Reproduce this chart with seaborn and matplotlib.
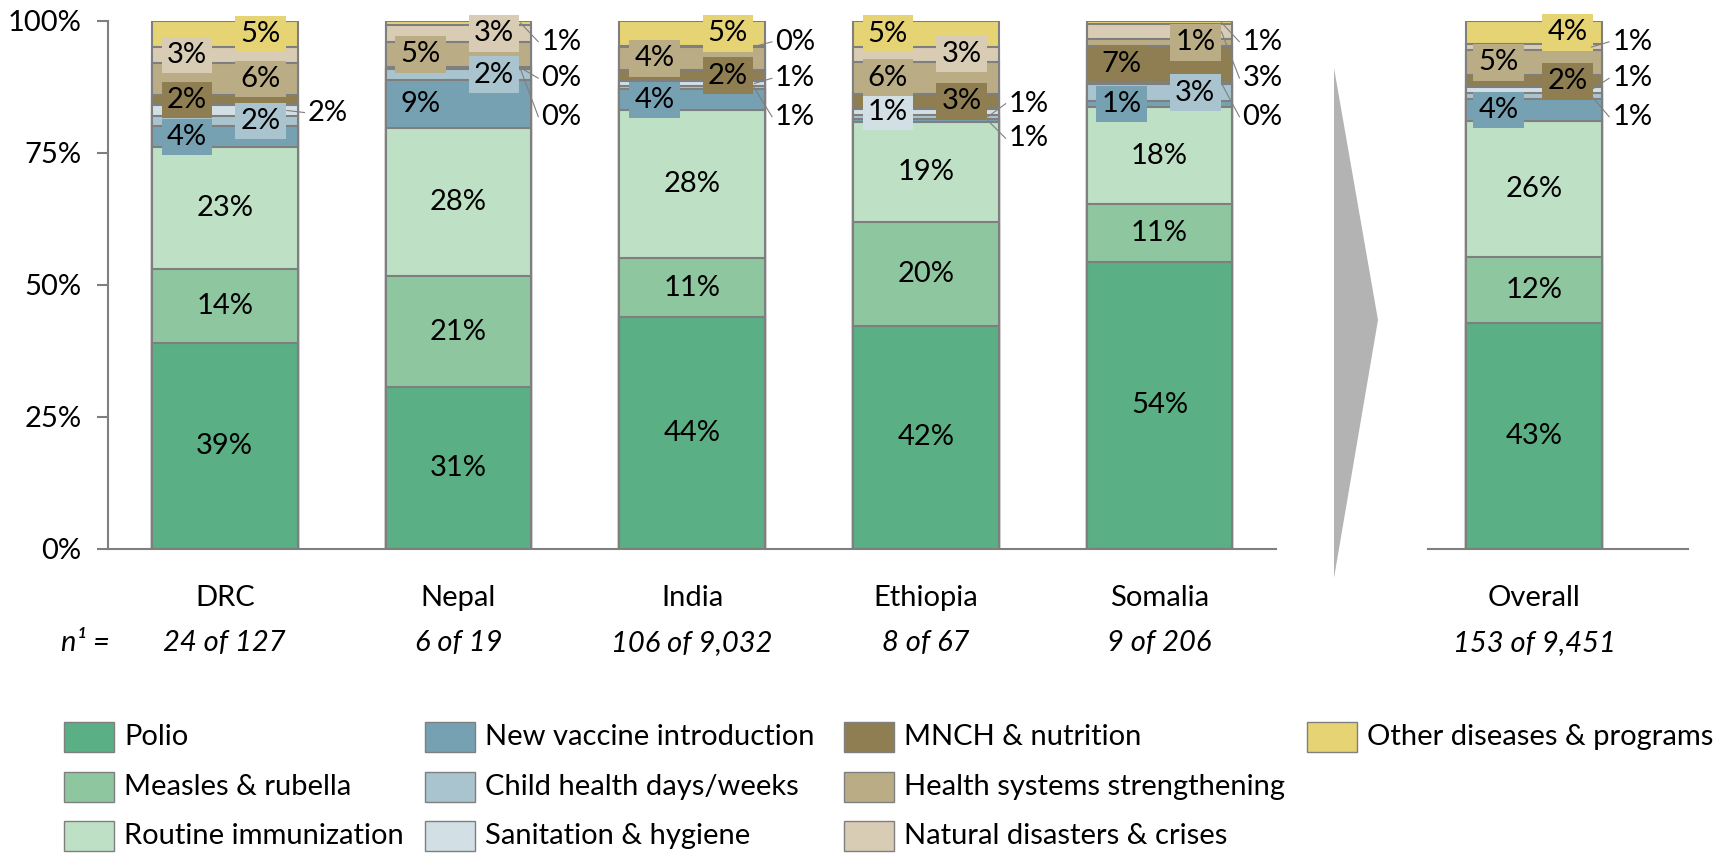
import matplotlib
matplotlib.use("Agg")
import matplotlib.pyplot as plt
import seaborn as sns
import numpy as np
from matplotlib.patches import Polygon, Rectangle

# ---------------- data ----------------
countries = ["DRC", "Nepal", "India", "Ethiopia", "Somalia"]
n_labels = ["24 of 127", "6 of 19", "106 of 9,032", "8 of 67", "9 of 206"]
overall_name = ["Overall"]
overall_n = "153 of 9,451"
categories = ["Polio", "Measles & rubella", "Routine immunization",
              "New vaccine introduction", "Child health days/weeks",
              "Sanitation & hygiene", "MNCH & nutrition",
              "Health systems strengthening", "Natural disasters & crises",
              "Other diseases & programs"]

# columns: DRC, Nepal, India, Ethiopia, Somalia, Overall  (percent)
polio        = [39.0, 30.6, 43.8, 42.2, 54.3, 42.8]
measles      = [14.0, 21.0, 11.2, 19.6, 11.0, 12.4]
routine      = [23.0, 28.1, 28.0, 19.0, 18.3, 25.8]
new_vaccine  = [4.0, 9.1, 4.0, 0.6, 1.2, 4.2]
child_health = [2.0, 2.0, 0.7, 0.8, 3.2, 1.2]
sanitation   = [2.0, 0.2, 0.8, 1.0, 0.3, 1.0]
mnch         = [2.0, 0.2, 2.2, 3.0, 7.0, 2.4]
hss          = [6.0, 4.8, 4.3, 6.0, 1.2, 4.6]
disasters    = [3.0, 3.2, 0.2, 2.9, 2.8, 1.2]
other        = [5.0, 0.8, 4.8, 4.9, 0.7, 4.4]

y_ticks = [0, 25, 50, 75, 100]
y_ticklabels = ["0%", "25%", "50%", "75%", "100%"]

# ---------------- style ----------------
colors = ["#5BAF84", "#8EC69F", "#BEE0C5", "#76A1B2", "#A9C4CE",
          "#D2E0E6", "#8E7E51", "#BAAC85", "#D8CCB4", "#E6D374"]
EDGE = "#7F7F7F"

# label placement per bar: c=centre, l=left box, r=right box, number = outside label at that y
placement = [
    ["c", "c", "c", "l", "r", 82.6, "l", "r", "l", "r"],        # DRC
    ["c", "c", "c", "l", "r", 81.8, 89.1, "l", "r", 96.0],       # Nepal
    ["c", "c", "c", "l", 81.8, 89.1, "r", "l", 96.0, "r"],       # India
    ["c", "c", "c", 77.7, 84.3, "l", "r", "l", "r", "l"],        # Ethiopia
    ["c", "c", "c", "l", "r", 81.8, "l", "r", 89.1, 96.0],       # Somalia
    ["c", "c", "c", "l", 81.8, 89.1, "r", "l", 96.0, "r"],       # Overall
]

sns.set_theme(style="white")
plt.rcParams["font.family"] = ["Lato", "DejaVu Sans"]
FS = 21

W, H = 1729, 855
fig = plt.figure(figsize=(W / 100, H / 100), dpi=100)


def fx(px):
    return px / W


def fy(py):
    return 1 - py / H


Y0, Y100 = 548.7, 20.7
CAT = 233.7
ax = fig.add_axes([fx(107.9), fy(Y0), fx(5 * CAT), (Y0 - Y100) / H])
OV_L, OV_R, OV_C, OV_BAR = 1428, 1688, 1534, 136.4
ax2 = fig.add_axes([fx(OV_L), fy(Y0), fx(OV_R - OV_L), (Y0 - Y100) / H])

series = [polio, measles, routine, new_vaccine, child_health, sanitation,
          mnch, hss, disasters, other]
vals = np.array(series)
tops = np.cumsum(vals, axis=0)

BW = 0.624
BW2 = 0.624
px_unit2 = OV_BAR / BW2

for j in reversed(range(len(categories))):
    sns.barplot(x=countries, y=tops[j, :5], order=countries, color=colors[j],
                saturation=1, width=BW, edgecolor=EDGE, linewidth=1.5,
                errorbar=None, ax=ax)
    sns.barplot(x=overall_name, y=tops[j, 5:6], color=colors[j],
                saturation=1, width=BW2, edgecolor=EDGE, linewidth=1.5,
                errorbar=None, ax=ax2)


def draw_labels(axis, xpos, k, barw, px_unit):
    for j in range(len(categories)):
        v = vals[j, k]
        mid = tops[j, k] - v / 2
        txt = f"{v:.0f}%"
        p = placement[k][j]
        if isinstance(p, str):
            dx = {"c": 0.0, "l": -0.26 * barw, "r": 0.245 * barw}[p]
            axis.text(xpos + dx, mid, txt, ha="center", va="center",
                      fontsize=FS, color="black", zorder=6,
                      bbox=dict(boxstyle="square,pad=0.18", fc=colors[j],
                                ec="none"))
        else:
            xr = xpos + barw / 2
            axis.text(xr + 10 / px_unit, p, txt, ha="left", va="center",
                      fontsize=FS, color="black", zorder=6, clip_on=False)
            axis.plot([xr - 11 / px_unit, xr + 7 / px_unit], [mid, p],
                      color=EDGE, lw=0.8, zorder=7, clip_on=False)


for i in range(5):
    draw_labels(ax, i, i, BW, CAT)
draw_labels(ax2, 0, 5, BW2, px_unit2)

# ---------------- axes ----------------
for a in (ax, ax2):
    a.set_ylim(0, 100)
    for s in ("top", "right"):
        a.spines[s].set_visible(False)
    a.spines["bottom"].set_color(EDGE)
    a.spines["bottom"].set_linewidth(1.5)
    a.set_xlabel("")
    a.set_ylabel("")
    a.tick_params(axis="x", which="major", length=0, pad=26, labelsize=FS,
                  labelcolor="black")
    a.tick_params(axis="x", which="minor", length=8.5, width=1.5, color=EDGE,
                  direction="out")

ax.set_xlim(-0.5, 4.5)
ax.set_xticks(np.arange(-0.5, 5.0, 1.0), minor=True)
ax.spines["left"].set_color(EDGE)
ax.spines["left"].set_linewidth(1.5)
ax.set_yticks(y_ticks)
ax.set_yticklabels(y_ticklabels)
ax.tick_params(axis="y", length=8, width=1.5, color=EDGE, pad=11,
               labelsize=FS, labelcolor="black", left=True)

x2l = -(OV_C - OV_L) / px_unit2
x2r = (OV_R - OV_C) / px_unit2
ax2.set_xlim(x2l, x2r)
ax2.set_xticks([x2l, x2r], minor=True)
ax2.spines["left"].set_visible(False)
ax2.set_yticks([])

# n labels
ny = -(643 - Y0) / (Y0 - Y100)
for i, t in enumerate(n_labels):
    ax.text(i, ny, t, transform=ax.get_xaxis_transform(), ha="center",
            va="center", fontsize=FS, style="italic", color="black")
ax2.text(0, ny, overall_n, transform=ax2.get_xaxis_transform(), ha="center",
         va="center", fontsize=FS, style="italic", color="black")
fig.text(fx(61), fy(643), "n¹ =", ha="left", va="center", fontsize=FS,
         style="italic", color="black")

# arrow
fig.patches.append(Polygon([(fx(1334), fy(68)), (fx(1378), fy(320)),
                            (fx(1334), fy(578))], closed=True,
                           transform=fig.transFigure, fc="#B3B3B3",
                           ec="none"))

# legend (manual, column-major layout)
col_patch_x = [64, 425, 844, 1307]
row_y = [737, 787, 836]
PW, PH = 50, 30
for j, name in enumerate(categories):
    c, r = j // 3, j % 3
    px, py = col_patch_x[c], row_y[r]
    fig.patches.append(Rectangle((fx(px), fy(py + PH / 2)), fx(PW), PH / H,
                                 transform=fig.transFigure, fc=colors[j],
                                 ec=EDGE, lw=1.0))
    fig.text(fx(px + PW + 10), fy(py), name, ha="left", va="center",
             fontsize=FS, color="black")

fig.savefig("out.png", dpi=100)
